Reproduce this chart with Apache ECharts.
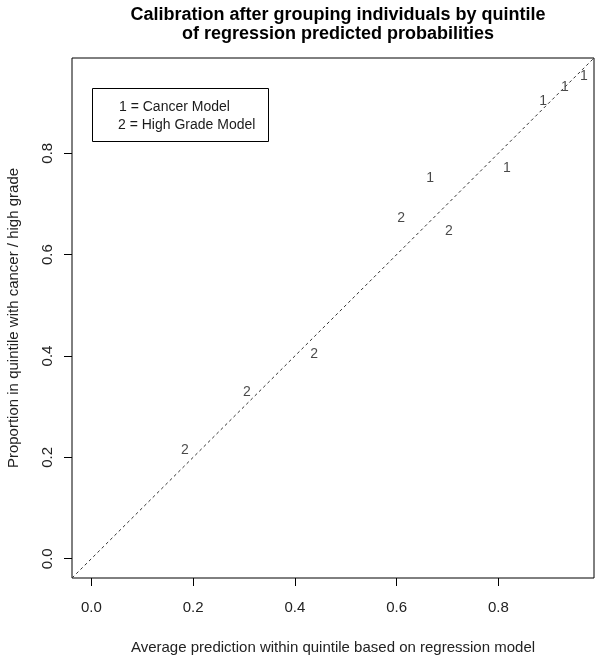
<!DOCTYPE html>
<html>
<head>
<meta charset="utf-8">
<script src="https://cdn.jsdelivr.net/npm/echarts@6/dist/echarts.min.js"></script>
<style>
html,body{margin:0;padding:0;background:#fff;}
#chart{width:600px;height:660px;}
</style>
</head>
<body>
<div id="chart"></div>
<script>
// Data
const cancerX = [0.666, 0.817, 0.888, 0.931, 0.968];
const cancerY = [0.751, 0.771, 0.902, 0.930, 0.952];
const cancerLabel = '1';
const highX = [0.184, 0.306, 0.438, 0.609, 0.703];
const highY = [0.215, 0.328, 0.403, 0.672, 0.647];
const highLabel = '2';
const tickValues = [0, 0.2, 0.4, 0.6, 0.8];
const axisMin = -0.038;
const axisMax = 0.988;
const refLine = [axisMin, axisMax];
const titleText = 'Calibration after grouping individuals by quintile\nof regression predicted probabilities';
const xTitle = 'Average prediction within quintile based on regression model';
const yTitle = 'Proportion in quintile with cancer / high grade';
const legendLines = ['1 = Cancer Model', '2 = High Grade Model'];

const FONT = "'Liberation Sans', Arial, sans-serif";
const chart = echarts.init(document.getElementById('chart'), null, {renderer: 'canvas'});

function pts(xs, ys) { return xs.map((x, i) => [x, ys[i]]); }

const labelStyle = {
  show: true, position: 'inside', color: '#1a1a1a', fontSize: 14, fontFamily: FONT,
  formatter: p => p.seriesName === 'cancer' ? cancerLabel : highLabel
};

const option = {
  backgroundColor: '#fff',
  animation: false,
  title: {
    text: titleText, left: 333, top: 1, textAlign: 'center',
    textStyle: {fontSize: 18, fontWeight: 'bold', color: '#000', fontFamily: FONT, lineHeight: 19}
  },
  grid: {left: 72, right: 6, top: 58, bottom: 82, show: true, borderColor: '#000', borderWidth: 1,
    containLabel: false, outerBoundsMode: 'none'},
  xAxis: {
    type: 'value', min: axisMin, max: axisMax,
    splitLine: {show: false},
    axisLine: {show: false, onZero: false},
    axisTick: {show: true, inside: false, length: 8, customValues: tickValues, lineStyle: {color: '#000'}},
    axisLabel: {show: true, customValues: tickValues, margin: 22, color: '#222', fontSize: 15, fontFamily: FONT,
      formatter: v => v.toFixed(1)},
    name: xTitle, nameLocation: 'middle', nameGap: 62,
    nameTextStyle: {fontSize: 15, color: '#222', fontFamily: FONT}
  },
  yAxis: {
    type: 'value', min: axisMin, max: axisMax,
    splitLine: {show: false},
    axisLine: {show: false, onZero: false},
    axisTick: {show: true, inside: false, length: 8, customValues: tickValues, lineStyle: {color: '#000'}},
    axisLabel: {show: true, customValues: tickValues, margin: 17, rotate: 90, color: '#222', fontSize: 15, fontFamily: FONT,
      formatter: v => v.toFixed(1)},
    name: yTitle, nameLocation: 'middle', nameGap: 51, nameRotate: 90,
    nameTextStyle: {fontSize: 15, color: '#222', fontFamily: FONT}
  },
  series: [
    {
      type: 'line', name: 'ref', data: [[refLine[0], refLine[0]], [refLine[1], refLine[1]]],
      symbol: 'none', silent: true,
      lineStyle: {color: '#333', width: 1, type: [3, 3]}
    },
    {
      type: 'scatter', name: 'cancer', data: pts(cancerX, cancerY),
      symbolSize: 1, itemStyle: {color: 'rgba(0,0,0,0)'}, label: labelStyle
    },
    {
      type: 'scatter', name: 'high', data: pts(highX, highY),
      symbolSize: 1, itemStyle: {color: 'rgba(0,0,0,0)'}, label: labelStyle
    }
  ],
  graphic: [
    {type: 'rect', shape: {x: 92.5, y: 88.5, width: 176, height: 53}, style: {fill: 'none', stroke: '#000', lineWidth: 1}},
    {type: 'text', x: 119, y: 107, style: {text: legendLines[0], fill: '#1a1a1a', font: '14px ' + FONT, textVerticalAlign: 'middle'}},
    {type: 'text', x: 118, y: 125, style: {text: legendLines[1], fill: '#1a1a1a', font: '14px ' + FONT, textVerticalAlign: 'middle'}}
  ]
};
chart.setOption(option);
</script>
</body>
</html>
